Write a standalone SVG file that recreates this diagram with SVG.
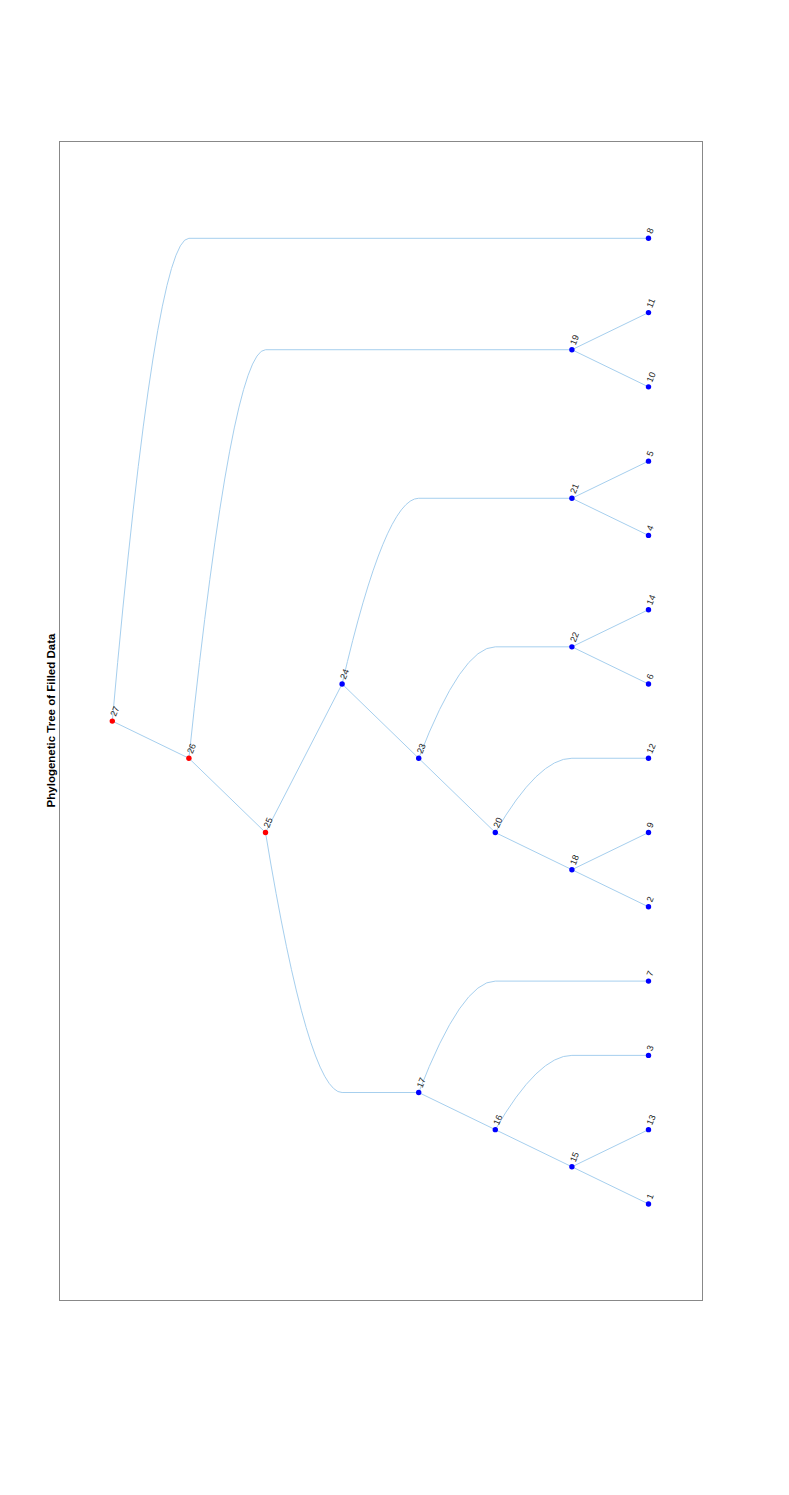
<svg xmlns="http://www.w3.org/2000/svg" width="789" height="1495" viewBox="0 0 789 1495">
<style>
.e{fill:none;stroke:#a6cfee;stroke-width:1}
.b{fill:#0000ff}
.r{fill:#ff0000}
.l{font-family:"Liberation Sans",Arial,sans-serif;font-size:9px;fill:#222}
.t{font-family:"Liberation Sans",Arial,sans-serif;font-size:11.5px;font-weight:bold;fill:#000}
</style>
<rect x="0" y="0" width="789" height="1495" fill="#fff"/>
<rect x="59.5" y="141.5" width="643" height="1159" fill="none" stroke="#888" stroke-width="1"/>
<text class="t" transform="translate(55,720.5) rotate(-90)" text-anchor="middle">Phylogenetic Tree of Filled Data</text>
<g id="edges">
<path class="e" d="M112.3,721.12 Q155.3,238.3 188.9,238.3 H648.5"/>
<path class="e" d="M188.9,758.26 Q231.9,349.72 265.5,349.72 H571.9"/>
<path class="e" d="M265.5,832.54 Q308.5,1092.52 342.1,1092.52 H418.7"/>
<path class="e" d="M342.1,683.98 Q385.1,498.28 418.7,498.28 H571.9"/>
<path class="e" d="M418.7,758.26 Q461.7,646.84 495.3,646.84 H571.9"/>
<path class="e" d="M495.3,832.54 Q538.3,758.26 571.9,758.26 H648.5"/>
<path class="e" d="M418.7,1092.52 Q461.7,981.1 495.3,981.1 H648.5"/>
<path class="e" d="M495.3,1129.66 Q538.3,1055.38 571.9,1055.38 H648.5"/>
<path class="e" d="M112.3,721.12 L188.9,758.26 L265.5,832.54 L342.1,683.98 L418.7,758.26 L495.3,832.54 L571.9,869.68"/>
<path class="e" d="M571.9,869.68 L648.5,832.54 M571.9,869.68 L648.5,906.82"/>
<path class="e" d="M571.9,646.84 L648.5,609.7 M571.9,646.84 L648.5,683.98"/>
<path class="e" d="M571.9,498.28 L648.5,461.14 M571.9,498.28 L648.5,535.42"/>
<path class="e" d="M571.9,349.72 L648.5,312.58 M571.9,349.72 L648.5,386.86"/>
<path class="e" d="M418.7,1092.52 L495.3,1129.66 L571.9,1166.8"/>
<path class="e" d="M571.9,1166.8 L648.5,1129.66 M571.9,1166.8 L648.5,1203.94"/>
</g>
<g id="n27"><circle class="r" cx="112.3" cy="721.12" r="2.7"/><text class="l" transform="translate(115.8,717.1) rotate(-68)">27</text></g>
<g id="n26"><circle class="r" cx="188.9" cy="758.26" r="2.7"/><text class="l" transform="translate(192.4,754.3) rotate(-68)">26</text></g>
<g id="n25"><circle class="r" cx="265.5" cy="832.54" r="2.7"/><text class="l" transform="translate(269,828.5) rotate(-68)">25</text></g>
<g id="n24"><circle class="b" cx="342.1" cy="683.98" r="2.7"/><text class="l" transform="translate(345.6,680) rotate(-68)">24</text></g>
<g id="n23"><circle class="b" cx="418.7" cy="758.26" r="2.7"/><text class="l" transform="translate(422.2,754.3) rotate(-68)">23</text></g>
<g id="n20"><circle class="b" cx="495.3" cy="832.54" r="2.7"/><text class="l" transform="translate(498.8,828.5) rotate(-68)">20</text></g>
<g id="n18"><circle class="b" cx="571.9" cy="869.68" r="2.7"/><text class="l" transform="translate(575.4,865.7) rotate(-68)">18</text></g>
<g id="n22"><circle class="b" cx="571.9" cy="646.84" r="2.7"/><text class="l" transform="translate(575.4,642.8) rotate(-68)">22</text></g>
<g id="n21"><circle class="b" cx="571.9" cy="498.28" r="2.7"/><text class="l" transform="translate(575.4,494.3) rotate(-68)">21</text></g>
<g id="n19"><circle class="b" cx="571.9" cy="349.72" r="2.7"/><text class="l" transform="translate(575.4,345.7) rotate(-68)">19</text></g>
<g id="n17"><circle class="b" cx="418.7" cy="1092.52" r="2.7"/><text class="l" transform="translate(422.2,1088.5) rotate(-68)">17</text></g>
<g id="n16"><circle class="b" cx="495.3" cy="1129.66" r="2.7"/><text class="l" transform="translate(498.8,1125.7) rotate(-68)">16</text></g>
<g id="n15"><circle class="b" cx="571.9" cy="1166.8" r="2.7"/><text class="l" transform="translate(575.4,1162.8) rotate(-68)">15</text></g>
<g id="n8"><circle class="b" cx="648.5" cy="238.3" r="2.7"/><text class="l" transform="translate(652,234.3) rotate(-68)">8</text></g>
<g id="n11"><circle class="b" cx="648.5" cy="312.58" r="2.7"/><text class="l" transform="translate(652,308.6) rotate(-68)">11</text></g>
<g id="n10"><circle class="b" cx="648.5" cy="386.86" r="2.7"/><text class="l" transform="translate(652,382.9) rotate(-68)">10</text></g>
<g id="n5"><circle class="b" cx="648.5" cy="461.14" r="2.7"/><text class="l" transform="translate(652,457.1) rotate(-68)">5</text></g>
<g id="n4"><circle class="b" cx="648.5" cy="535.42" r="2.7"/><text class="l" transform="translate(652,531.4) rotate(-68)">4</text></g>
<g id="n14"><circle class="b" cx="648.5" cy="609.7" r="2.7"/><text class="l" transform="translate(652,605.7) rotate(-68)">14</text></g>
<g id="n6"><circle class="b" cx="648.5" cy="683.98" r="2.7"/><text class="l" transform="translate(652,680) rotate(-68)">6</text></g>
<g id="n12"><circle class="b" cx="648.5" cy="758.26" r="2.7"/><text class="l" transform="translate(652,754.3) rotate(-68)">12</text></g>
<g id="n9"><circle class="b" cx="648.5" cy="832.54" r="2.7"/><text class="l" transform="translate(652,828.5) rotate(-68)">9</text></g>
<g id="n2"><circle class="b" cx="648.5" cy="906.82" r="2.7"/><text class="l" transform="translate(652,902.8) rotate(-68)">2</text></g>
<g id="n7"><circle class="b" cx="648.5" cy="981.1" r="2.7"/><text class="l" transform="translate(652,977.1) rotate(-68)">7</text></g>
<g id="n3"><circle class="b" cx="648.5" cy="1055.38" r="2.7"/><text class="l" transform="translate(652,1051.4) rotate(-68)">3</text></g>
<g id="n13"><circle class="b" cx="648.5" cy="1129.66" r="2.7"/><text class="l" transform="translate(652,1125.7) rotate(-68)">13</text></g>
<g id="n1"><circle class="b" cx="648.5" cy="1203.94" r="2.7"/><text class="l" transform="translate(652,1199.9) rotate(-68)">1</text></g>
</svg>
